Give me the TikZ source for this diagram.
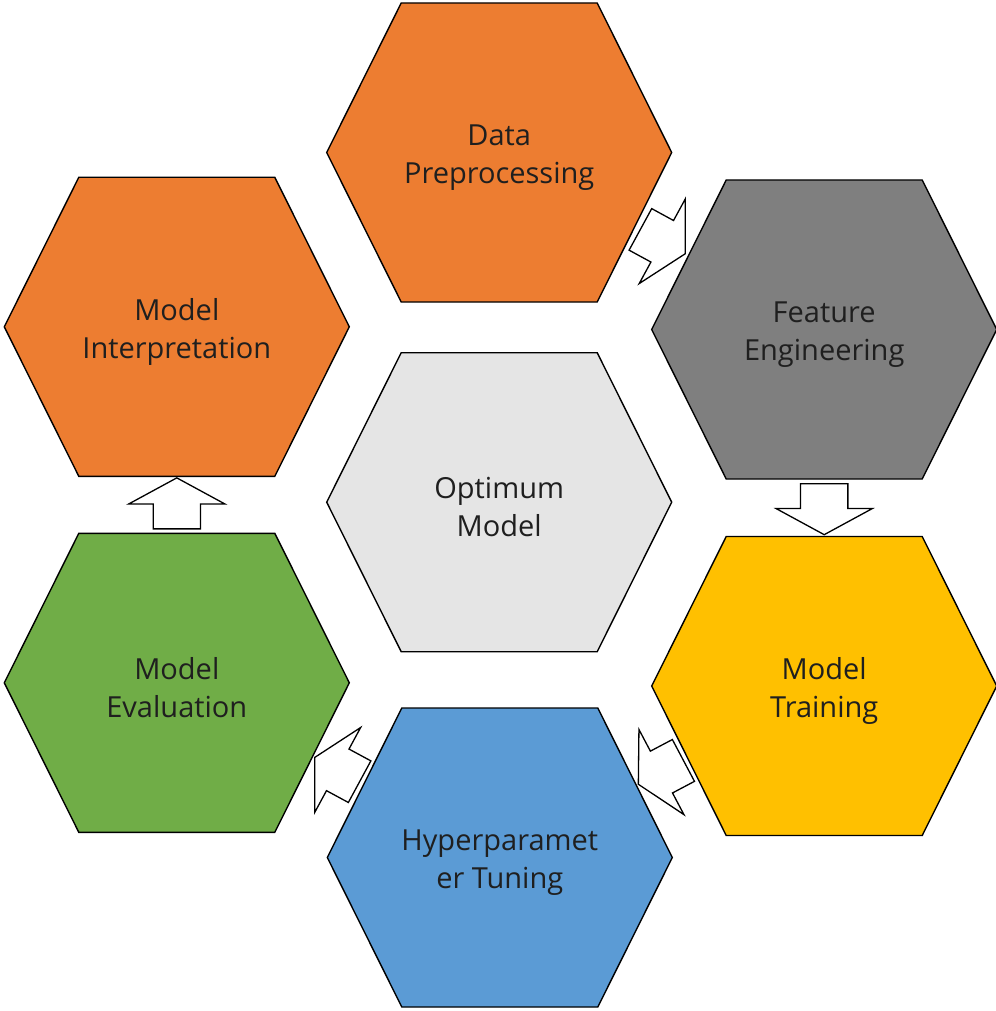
\documentclass[tikz,border=0pt]{standalone}
\usepackage{fontspec}
\setmainfont{Open Sans}
\usepackage{tikz}
\usetikzlibrary{shapes.arrows}
\usetikzlibrary{calc}

\definecolor{hexorange}{HTML}{ED7D31}
\definecolor{hexgray}{HTML}{7F7F7F}
\definecolor{hexyellow}{HTML}{FFC000}
\definecolor{hexblue}{HTML}{5B9BD5}
\definecolor{hexgreen}{HTML}{70AD47}
\definecolor{hexlight}{HTML}{E5E5E5}
\definecolor{hextext}{HTML}{1F1F1F}

\tikzset{
  % text sits 5pt below the middle of the hexagon
  hex/.style={rectangle, minimum width=352pt, minimum height=322pt, inner sep=0pt,
    yshift=-5pt, align=center, text=hextext, font=\fontsize{29}{38}\selectfont,
    path picture={
      \filldraw[fill=#1, line width=1.4pt]
        ([xshift=-172.5pt,yshift=5pt]path picture bounding box.center)
        -- ++(74.5,-149.5) -- ++(196,0) -- ++(74.5,149.5)
        -- ++(-74.5,149.5) -- ++(-196,0) -- cycle;
    }},
  blockarrow/.style={single arrow, draw=black, fill=white, line width=1.3pt,
    inner xsep=0pt, inner ysep=23pt, minimum height=51pt,
    single arrow head extend=24.5pt, single arrow tip angle=123,
    sloped, allow upside down, pos=0.486}
}

\begin{document}
\begin{tikzpicture}[x=1pt,y=-1pt]
  \useasboundingbox (0,0) rectangle (995,1011);
  \path
    (499.2,502.2) node(om) [hex=hexlight] {Optimum\\Model}
    (499.2,152.5) node(dp) [hex=hexorange] {Data\\Preprocessing}
    (824.2,329.5) node(fe) [hex=hexgray] {Feature\\Engineering}
    (824.2,686) node(mt) [hex=hexyellow] {Model\\Training}
    (499.8,857.5) node(ht) [hex=hexblue] {Hyperparamet\\er Tuning}
    (176.8,682.8) node(me) [hex=hexgreen] {Model\\Evaluation}
    (176.8,326.8) node(mi) [hex=hexorange] {Model\\Interpretation};
  % block arrows half way between the hexagon middles
  \path
    ([yshift=5pt]dp.center) -- node[blockarrow] {} ([yshift=5pt]fe.center)
    ([yshift=5pt]fe.center) -- node[blockarrow] {} ([yshift=5pt]mt.center)
    ([yshift=5pt]mt.center) -- node[blockarrow] {} ([yshift=5pt]ht.center)
    ([yshift=5pt]ht.center) -- node[blockarrow] {} ([yshift=5pt]me.center)
    ([yshift=5pt]me.center) -- node[blockarrow] {} ([yshift=5pt]mi.center);
\end{tikzpicture}
\end{document}
